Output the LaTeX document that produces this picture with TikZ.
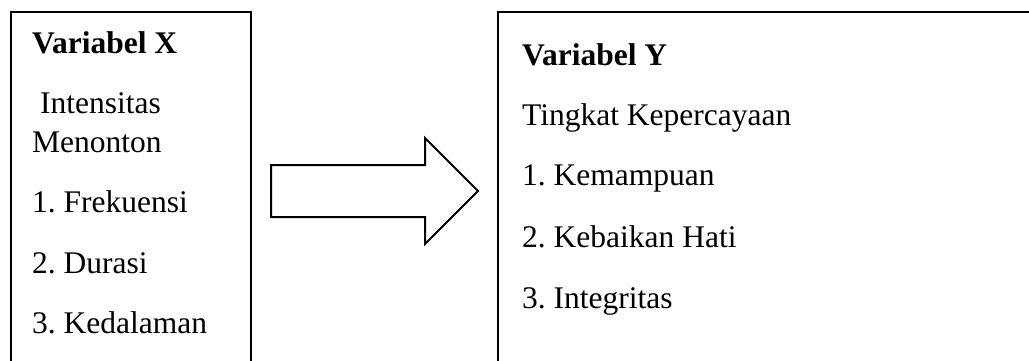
\documentclass[tikz,border=0pt]{standalone}
\usepackage{fontspec}
\setmainfont{Liberation Serif}
\frenchspacing
\begin{document}
\begin{tikzpicture}[x=1pt,y=-1pt,
  boxline/.style={draw=black,line width=2.6pt},
  arrowline/.style={draw=black,line width=2pt,fill=white,line join=miter},
  txt/.style={anchor=base west,inner sep=0pt,font=\fontsize{31.5}{36}\selectfont\frenchspacing},
  head/.style={txt,font=\fontsize{31.5}{36}\selectfont\bfseries\frenchspacing}]
\useasboundingbox (0,0) rectangle (1029,360);
\clip (0,0) rectangle (1029,360);
% boxes (cropped at the bottom / right)
\draw[boxline] (11,12) rectangle (251,400);
\draw[boxline] (498,12) rectangle (1060,400);
% block arrow
\draw[arrowline] (271,165) -- (425,165) -- (425,138) -- (478,191) -- (425,244) -- (425,217) -- (271,217) -- cycle;
% left texts
\node[head] (vx) at (32,53) {Variabel X};
\node[txt] (x0) at (32,113) {\ Intensitas};
\node[txt] (x0b) at (32,152) {Menonton};
\node[txt] (x1) at (32,212) {1. Frekuensi};
\node[txt] (x2) at (32,273) {2. Durasi};
\node[txt] (x3) at (32,333) {3. Kedalaman};
% right texts
\node[head] (vy) at (522,65) {Variabel Y};
\node[txt] (y0) at (522,125) {Tingkat Kepercayaan};
\node[txt] (y1) at (522,185) {1. Kemampuan};
\node[txt] (y2) at (522,247) {2. Kebaikan Hati};
\node[txt] (y3) at (522,308) {3. Integritas};
\end{tikzpicture}
\end{document}
